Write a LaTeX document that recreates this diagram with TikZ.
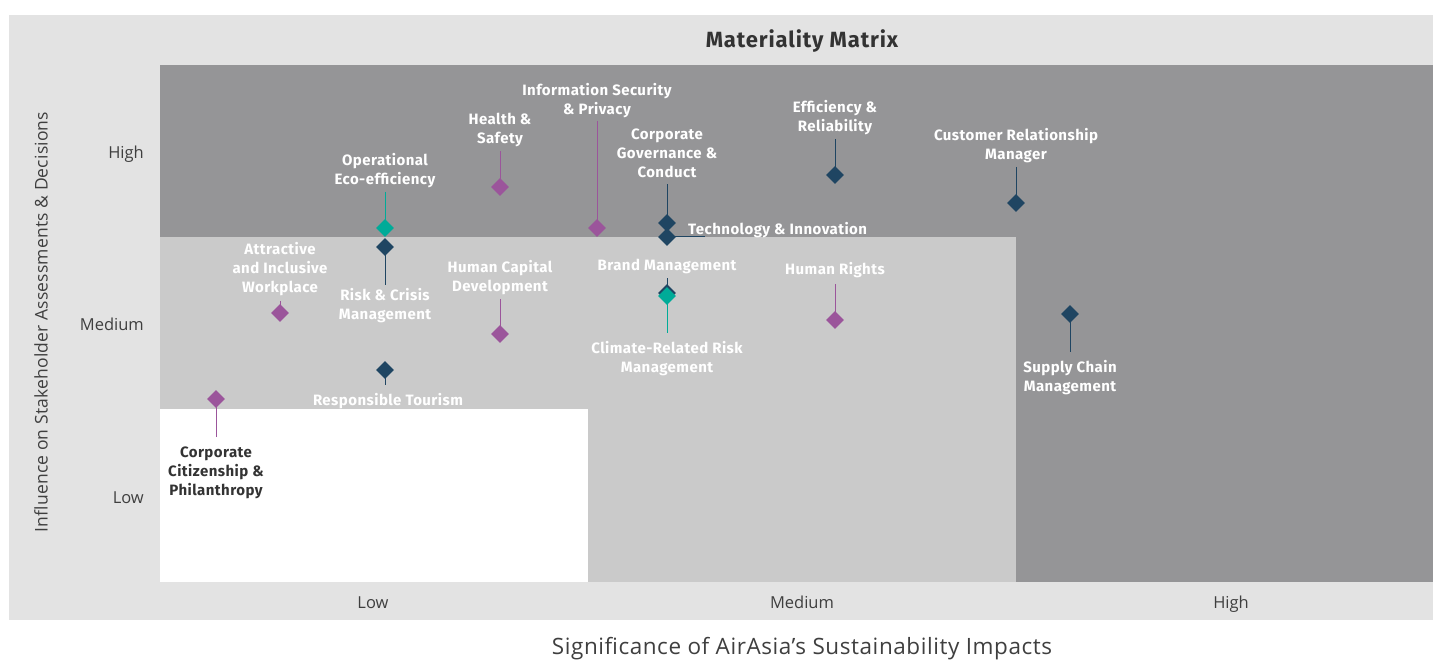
\documentclass[tikz,border=0pt]{standalone}
\usepackage{fontspec}
\setmainfont{Open Sans}
\newfontfamily\lblfont{Fira Sans}[LetterSpace=3]
\newfontfamily\ttlfont{Fira Sans}[LetterSpace=4]
\usetikzlibrary{shapes.geometric}
\definecolor{bgout}{HTML}{E3E3E3}
\definecolor{zonehi}{HTML}{959597}
\definecolor{zonemid}{HTML}{CACACA}
\definecolor{cpurple}{HTML}{9B559B}
\definecolor{cnavy}{HTML}{1F4562}
\definecolor{cteal}{HTML}{00AB98}
\definecolor{axtext}{HTML}{3F3F3F}
\definecolor{ttext}{HTML}{333333}
\pgfdeclarelayer{back}
\pgfdeclarelayer{lines}
\pgfsetlayers{back,lines,main}
\begin{document}
\begin{tikzpicture}[x=1pt,y=-1pt,
  dia/.style={diamond, inner sep=0pt, minimum width=18pt, minimum height=18pt, draw=none},
  lbl/.style={text=white, font=\lblfont\bfseries\fontsize{15}{19}\selectfont, align=center, inner sep=0pt, anchor=north},
  conn/.style={draw=#1, line width=1pt},
  axlbl/.style={text=axtext, font=\fontsize{16.5}{20}\selectfont, inner sep=0pt}
]
\useasboundingbox (0,0) rectangle (1433,660);
% background zones
\begin{pgfonlayer}{back}
\fill[bgout] (9,15) rectangle (1433,620);
\fill[zonehi] (160,65) rectangle (1433,582);
\fill[zonemid] (160,237) rectangle (1016,582);
\fill[white] (160,409) rectangle (588,582);
\end{pgfonlayer}

% title and axes
\node[text=ttext, font=\ttlfont\bfseries\fontsize{22}{24}\selectfont, inner sep=0pt, anchor=base] (title) at (802,48) {Materiality Matrix};
\node[axlbl, anchor=base east] (yhi) at (144,159) {High};
\node[axlbl, anchor=base east] (ymed) at (144,331) {Medium};
\node[axlbl, anchor=base east] (ylo) at (144,503) {Low};
\node[axlbl, anchor=base] (xlo) at (373,608) {Low};
\node[axlbl, anchor=base] (xmed) at (802,608) {Medium};
\node[axlbl, anchor=base] (xhi) at (1231,608) {High};
\node[axlbl, rotate=90, font=\addfontfeature{LetterSpace=1}\fontsize{17.5}{20}\selectfont] (ytitle) at (41,322) {Influence on Stakeholder Assessments \& Decisions};
\node[text=axtext, font=\addfontfeature{LetterSpace=2.5}\fontsize{22.5}{24}\selectfont, inner sep=0pt, anchor=base] (xtitle) at (802,654) {Significance of AirAsia’s Sustainability Impacts};

% labels
\node[lbl] (oeL) at (385,153) {Operational\\Eco-efficiency};
\node[lbl] (rcL) at (385,288) {Risk \& Crisis\\Management};
\node[lbl] (aiL) at (280,242) {Attractive\\and Inclusive\\Workplace};
\node[lbl] (hsL) at (500,113) {Health \&\\Safety};
\node[lbl] (isL) at (597,83) {Information Security\\\& Privacy};
\node[lbl] (cgL) at (667,129) {Corporate\\Governance \&\\Conduct};
\node[lbl, anchor=north west] (tiL) at (688,222) {Technology \& Innovation};
\node[lbl] (bmL) at (667,259) {Brand Management};
\node[lbl] (crL) at (667,341) {Climate-Related Risk\\Management};
\node[lbl] (hcL) at (500,260) {Human Capital\\Development};
\node[lbl] (erL) at (835,100) {Efficiency \&\\Reliability};
\node[lbl] (hrL) at (835,262) {Human Rights};
\node[lbl] (cmL) at (1016,128) {Customer Relationship\\Manager};
\node[lbl] (scL) at (1070,360) {Supply Chain\\Management};
\node[lbl] (rtL) at (388,393) {Responsible Tourism};
\node[lbl, text=ttext] (ccL) at (216,447) {Corporate\\Citizenship \&\\Philanthropy};

% diamonds
\node[dia, fill=cteal] (oe) at (385,228) {};
\node[dia, fill=cnavy] (rc) at (385,247) {};
\node[dia, fill=cpurple] (ai) at (280,313) {};
\node[dia, fill=cpurple] (hs) at (500,187) {};
\node[dia, fill=cpurple] (is) at (597,228) {};
\node[dia, fill=cnavy] (cg) at (667,223) {};
\node[dia, fill=cnavy] (ti) at (667,237) {};
\node[dia, fill=cnavy] (bm) at (667,293) {};
\node[dia, fill=cteal] (cr) at (667,296) {};
\node[dia, fill=cpurple] (hc) at (500,334) {};
\node[dia, fill=cnavy] (er) at (835,175) {};
\node[dia, fill=cpurple] (hr) at (835,320) {};
\node[dia, fill=cnavy] (cm) at (1016,203) {};
\node[dia, fill=cnavy] (sc) at (1070,314) {};
\node[dia, fill=cnavy] (rt) at (385,370) {};
\node[dia, fill=cpurple] (cc) at (216,399) {};
\coordinate (tiEnd) at (705,237);

% connectors
\begin{pgfonlayer}{lines}
\draw[conn=cteal, shorten <=4pt] (oeL.south) -- (oe.center);
\draw[conn=cnavy, shorten <=3pt] (rcL.north) -- (rc.center);
\draw[conn=cpurple, shorten <=5pt] (aiL.south) -- (ai.center);
\draw[conn=cpurple, shorten <=4pt] (hsL.south) -- (hs.center);
\draw[conn=cpurple, shorten <=3pt] (isL.south) -- (is.center);
\draw[conn=cnavy, shorten <=6pt] (cgL.south) -- (cg.center);
\draw[conn=cnavy] (ti.center) -- (tiEnd);
\draw[conn=cnavy, shorten <=4pt] (bmL.south) -- (bm.center);
\draw[conn=cteal, shorten <=8pt] (crL.north) -- (cr.center);
\draw[conn=cpurple, shorten <=4pt] (hcL.south) -- (hc.center);
\draw[conn=cnavy, shorten <=4pt] (erL.south) -- (er.center);
\draw[conn=cpurple, shorten <=6pt] (hrL.south) -- (hr.center);
\draw[conn=cnavy, shorten <=4pt] (cmL.south) -- (cm.center);
\draw[conn=cnavy, shorten <=8pt] (scL.north) -- (sc.center);
\draw[conn=cnavy, shorten <=8pt] (rt.center |- rtL.north) -- (rt.center);
\draw[conn=cpurple, shorten <=10pt] (ccL.north) -- (cc.center);
\end{pgfonlayer}
\end{tikzpicture}
\end{document}
